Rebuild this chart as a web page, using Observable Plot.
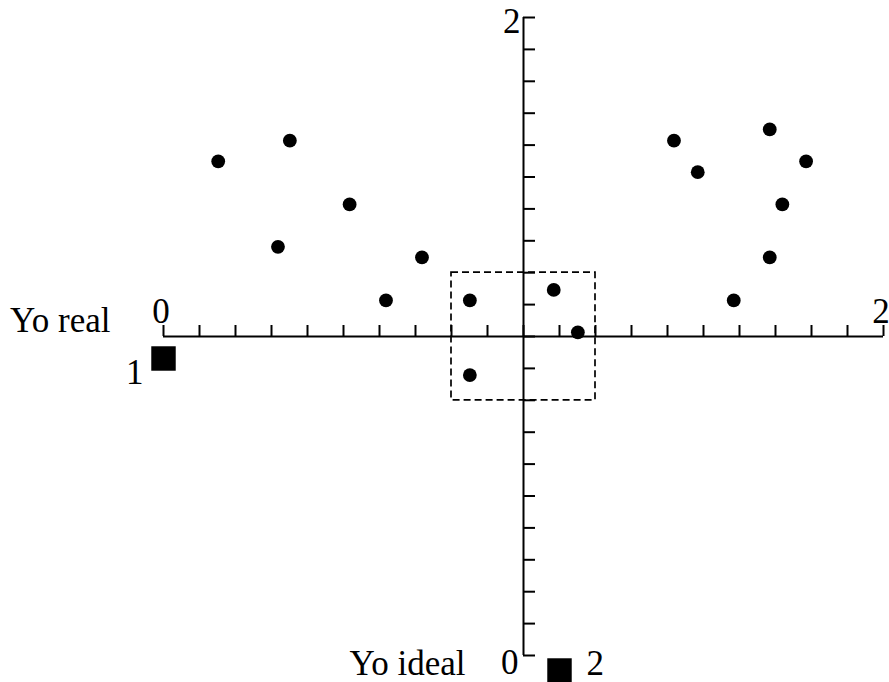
<!DOCTYPE html>
<html>
<head>
<meta charset="utf-8">
<script src="https://cdn.jsdelivr.net/npm/d3@7"></script>
<script src="https://cdn.jsdelivr.net/npm/@observablehq/plot@0.6"></script>
<style>
  html, body { margin: 0; padding: 0; background: white; }
</style>
</head>
<body>
<div id="chart"></div>
<script>
// Data
const xVals = [0.152, 0.351, 0.517, 0.318, 0.718, 0.618, 0.851, 1.084, 1.151, 0.851, 1.418, 1.684, 1.484, 1.785, 1.719, 1.684, 1.584];
const yVals = [1.549, 1.614, 1.414, 1.281, 1.248, 1.113, 1.113, 1.146, 1.013, 0.879, 1.614, 1.649, 1.515, 1.549, 1.414, 1.248, 1.113];
const points = xVals.map((x, i) => ({x, y: yVals[i]}));

// Axis ticks (0 to 2 by 0.1 on both axes)
const xTicks = [0,0.1,0.2,0.3,0.4,0.5,0.6,0.7,0.8,0.9,1,1.1,1.2,1.3,1.4,1.5,1.6,1.7,1.8,1.9,2];
const yTicks = [0,0.1,0.2,0.3,0.4,0.5,0.6,0.7,0.8,0.9,1,1.1,1.2,1.3,1.4,1.5,1.6,1.7,1.8,1.9,2];

// Dashed zoom box
const box = [{x1: 0.8, x2: 1.2, y1: 0.8, y2: 1.2}];

// Labels
const axisNames = ["Yo real", "Yo ideal"];
const endLabels = ["0", "2"];
const markerLabels = ["1", "2"];

const fs = 35;
const pxPerX = 360, pxPerY = 319;
const sw = 2;

const chart = Plot.plot({
  width: 889,
  height: 682,
  margin: 0,
  x: {domain: [0, 2], range: [163, 883], axis: null},
  y: {domain: [0, 2], range: [655, 17], axis: null},
  style: {background: "white", fontFamily: "'Liberation Serif', 'Times New Roman', serif", fontSize: fs + "px", color: "black"},
  marks: [
    // axis lines crossing at (1,1)
    Plot.ruleY([1], {x1: 0, x2: 2, stroke: "black", strokeWidth: sw}),
    Plot.ruleX([1], {y1: 0, y2: 2, stroke: "black", strokeWidth: sw}),
    // horizontal axis ticks (pointing up)
    Plot.ruleX(xTicks, {x: d => d, y1: 1, y2: 1 + 11 / pxPerY, stroke: "black", strokeWidth: sw}),
    // vertical axis ticks (pointing right)
    Plot.ruleY(yTicks, {y: d => d, x1: 1, x2: 1 + 12 / pxPerX, stroke: "black", strokeWidth: sw}),
    // dashed box
    Plot.rect(box, {x1: "x1", x2: "x2", y1: "y1", y2: "y2", fill: "none", stroke: "black", strokeWidth: 1.7, strokeDasharray: "7,4"}),
    // points
    Plot.dot(points, {x: "x", y: "y", r: 6.9, fill: "black", stroke: "none"}),
    // squares markers
    Plot.dot([{x: 0, y: 1}], {x: "x", y: "y", dy: 22, symbol: "square", r: 13.8, fill: "black", stroke: "none"}),
    Plot.dot([{x: 1.1, y: 0}], {x: "x", y: "y", dy: 15, symbol: "square", r: 13.8, fill: "black", stroke: "none"}),
    // horizontal axis labels
    Plot.text([axisNames[0]], {x: 0, y: 1, text: d => d, dx: -53, dy: -16.2, textAnchor: "end", fontSize: fs, fill: "black"}),
    Plot.text([endLabels[0]], {x: 0, y: 1, text: d => d, dx: -2.5, dy: -25.2, textAnchor: "middle", fontSize: fs, fill: "black"}),
    Plot.text([endLabels[1]], {x: 2, y: 1, text: d => d, dx: -2.5, dy: -25.2, textAnchor: "middle", fontSize: fs, fill: "black"}),
    Plot.text([markerLabels[0]], {x: 0, y: 1, text: d => d, dx: -20, dy: 35.8, textAnchor: "end", fontSize: fs, fill: "black"}),
    // vertical axis labels
    Plot.text([endLabels[1]], {x: 1, y: 2, text: d => d, dx: -3, dy: 3.8, textAnchor: "end", fontSize: fs, fill: "black"}),
    Plot.text([endLabels[0]], {x: 1, y: 0, text: d => d, dx: -5, dy: 6.8, textAnchor: "end", fontSize: fs, fill: "black"}),
    Plot.text([axisNames[1]], {x: 1, y: 0, text: d => d, dx: -58, dy: 7.8, textAnchor: "end", fontSize: fs, fill: "black"}),
    Plot.text([markerLabels[1]], {x: 1, y: 0, text: d => d, dx: 63, dy: 7.8, textAnchor: "start", fontSize: fs, fill: "black"})
  ]
});
document.getElementById("chart").appendChild(chart);
</script>
</body>
</html>
